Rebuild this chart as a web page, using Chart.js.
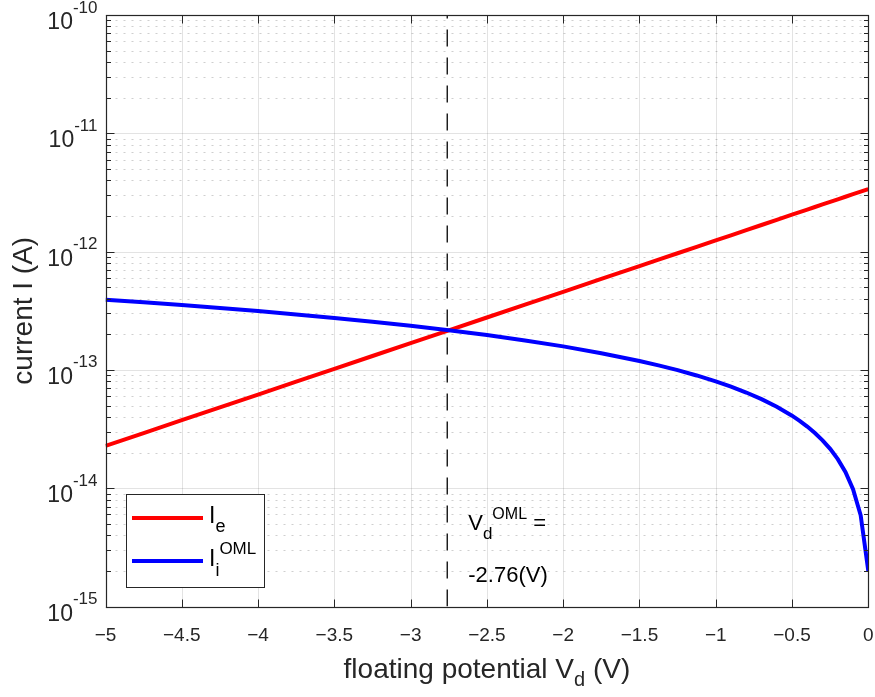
<!DOCTYPE html>
<html>
<head>
<meta charset="utf-8">
<title>OML floating potential</title>
<script src="https://cdn.jsdelivr.net/npm/chart.js@4.4.0/dist/chart.umd.min.js"></script>
<style>
html, body { margin: 0; padding: 0; background: #ffffff; }
</style>
</head>
<body>
<canvas id="currentChart" width="875" height="697"></canvas>
<script>
// floating potential V_d (V)
var vd = [-5, -4.75, -4.5, -4.25, -4, -3.75, -3.5, -3.25, -3, -2.75, -2.5, -2.25, -2,
  -1.75, -1.5, -1.375, -1.25, -1.125, -1, -0.9, -0.8, -0.7, -0.6, -0.5, -0.45, -0.4,
  -0.35, -0.3, -0.25, -0.2, -0.15, -0.1, -0.05, 0];
// electron current I_e (A)
var ie = [2.277e-14, 2.924e-14, 3.755e-14, 4.821e-14, 6.191e-14, 7.949e-14, 1.021e-13, 1.311e-13,
  1.683e-13, 2.161e-13, 2.774e-13, 3.562e-13, 4.574e-13, 5.874e-13, 7.542e-13, 8.546e-13,
  9.684e-13, 1.097e-12, 1.243e-12, 1.374e-12, 1.519e-12, 1.678e-12, 1.855e-12, 2.050e-12,
  2.155e-12, 2.266e-12, 2.382e-12, 2.504e-12, 2.632e-12, 2.767e-12, 2.909e-12, 3.058e-12,
  3.215e-12, 3.380e-12];
// ion current I_i^OML (A)
var iiOml = [3.92e-13, 3.725e-13, 3.53e-13, 3.335e-13, 3.14e-13, 2.945e-13, 2.75e-13, 2.555e-13,
  2.36e-13, 2.165e-13, 1.97e-13, 1.775e-13, 1.58e-13, 1.385e-13, 1.19e-13, 1.093e-13,
  9.95e-14, 8.975e-14, 8.0e-14, 7.22e-14, 6.44e-14, 5.66e-14, 4.88e-14, 4.1e-14,
  3.71e-14, 3.32e-14, 2.93e-14, 2.54e-14, 2.15e-14, 1.76e-14, 1.37e-14, 9.8e-15,
  5.9e-15, 2.0e-15];
// floating potential where I_e = I_i
var vFloat = -2.76;

// axis ticks
var xTicks = [-5, -4.5, -4, -3.5, -3, -2.5, -2, -1.5, -1, -0.5, 0];
var xTickLabels = ['-5', '-4.5', '-4', '-3.5', '-3', '-2.5', '-2', '-1.5', '-1', '-0.5', '0'];
var yExponents = [-15, -14, -13, -12, -11, -10];

var FONT = '"Liberation Sans", Arial, Helvetica, sans-serif';
var AXIS_COLOR = '#262626';

function toPoints(xs, ys) {
  return xs.map(function (x, i) { return { x: x, y: ys[i] }; });
}

// draws a run of text pieces (for sub/superscripts), returns total width
function richWidth(ctx, parts) {
  var w = 0;
  parts.forEach(function (p) {
    ctx.font = p.size + 'px ' + FONT;
    w += ctx.measureText(p.t).width;
  });
  return w;
}
function drawRich(ctx, parts, x, y, align) {
  var w = richWidth(ctx, parts);
  if (align === 'right') x -= w;
  else if (align === 'center') x -= w / 2;
  ctx.textAlign = 'left';
  ctx.textBaseline = 'alphabetic';
  parts.forEach(function (p) {
    ctx.font = p.size + 'px ' + FONT;
    ctx.fillText(p.t, x, y + (p.dy || 0));
    x += ctx.measureText(p.t).width;
  });
}

var axesPlugin = {
  id: 'matlabAxes',
  beforeDatasetsDraw: function (chart) {
    var ctx = chart.ctx, a = chart.chartArea;
    var xs = chart.scales.x, ys = chart.scales.y;
    ctx.save();
    ctx.lineWidth = 1;
    // minor log grid, dotted
    ctx.strokeStyle = 'rgba(38,38,38,0.22)';
    ctx.setLineDash([2, 6]);
    yExponents.slice(0, -1).forEach(function (e) {
      for (var m = 2; m <= 9; m++) {
        var py = Math.round(ys.getPixelForValue(m * Math.pow(10, e))) + 0.5;
        ctx.beginPath();
        ctx.moveTo(a.left + 2, py);
        ctx.lineTo(a.right, py);
        ctx.stroke();
      }
    });
    // major grid
    ctx.setLineDash([]);
    ctx.strokeStyle = 'rgba(38,38,38,0.13)';
    xTicks.forEach(function (v) {
      var px = Math.round(xs.getPixelForValue(v)) + 0.5;
      ctx.beginPath();
      ctx.moveTo(px, a.top);
      ctx.lineTo(px, a.bottom);
      ctx.stroke();
    });
    yExponents.forEach(function (e) {
      var py = Math.round(ys.getPixelForValue(Math.pow(10, e))) + 0.5;
      ctx.beginPath();
      ctx.moveTo(a.left, py);
      ctx.lineTo(a.right, py);
      ctx.stroke();
    });
    ctx.restore();
  },
  afterDatasetsDraw: function (chart) {
    var ctx = chart.ctx, a = chart.chartArea;
    var xs = chart.scales.x, ys = chart.scales.y;
    var L = Math.round(a.left) + 0.5, R = Math.round(a.right) + 0.5;
    var T = Math.round(a.top) + 0.5, B = Math.round(a.bottom) + 0.5;
    ctx.save();

    // box and inward ticks
    ctx.strokeStyle = AXIS_COLOR;
    ctx.lineWidth = 1.2;
    ctx.strokeRect(L, T, R - L, B - T);
    ctx.lineWidth = 1;
    xTicks.forEach(function (v) {
      var px = Math.round(xs.getPixelForValue(v)) + 0.5;
      ctx.beginPath();
      ctx.moveTo(px, B); ctx.lineTo(px, B - 8);
      ctx.moveTo(px, T); ctx.lineTo(px, T + 8);
      ctx.stroke();
    });
    yExponents.forEach(function (e, k) {
      var py = Math.round(ys.getPixelForValue(Math.pow(10, e))) + 0.5;
      ctx.beginPath();
      ctx.moveTo(L, py); ctx.lineTo(L + 8, py);
      ctx.moveTo(R, py); ctx.lineTo(R - 8, py);
      ctx.stroke();
      if (k === yExponents.length - 1) return;
      for (var m = 2; m <= 9; m++) {
        var pm = Math.round(ys.getPixelForValue(m * Math.pow(10, e))) + 0.5;
        ctx.beginPath();
        ctx.moveTo(L, pm); ctx.lineTo(L + 4.5, pm);
        ctx.moveTo(R, pm); ctx.lineTo(R - 4.5, pm);
        ctx.stroke();
      }
    });

    // tick labels
    ctx.fillStyle = AXIS_COLOR;
    ctx.font = '19px ' + FONT;
    ctx.textAlign = 'center';
    ctx.textBaseline = 'alphabetic';
    xTicks.forEach(function (v, i) {
      ctx.fillText(xTickLabels[i].replace('-', '\u2212'), xs.getPixelForValue(v), a.bottom + 34);
    });
    yExponents.forEach(function (e) {
      var py = ys.getPixelForValue(Math.pow(10, e));
      drawRich(ctx, [
        { t: '10', size: 23 },
        { t: '-' + Math.abs(e), size: 17, dy: -16.5 }
      ], a.left - 8, py + 14, 'right');
    });

    // axis titles
    drawRich(ctx, [
      { t: 'floating potential V', size: 28 },
      { t: 'd', size: 20, dy: 8 },
      { t: ' (V)', size: 28 }
    ], (a.left + a.right) / 2, 678, 'center');
    ctx.save();
    ctx.translate(32, (a.top + a.bottom) / 2);
    ctx.rotate(-Math.PI / 2);
    drawRich(ctx, [{ t: 'current I (A)', size: 28 }], 0, 0, 'center');
    ctx.restore();

    // annotation at the floating potential
    var ax = xs.getPixelForValue(vFloat) + 21;
    ctx.fillStyle = '#000000';
    drawRich(ctx, [
      { t: 'V', size: 22 },
      { t: 'd', size: 17, dy: 9 },
      { t: 'OML', size: 16, dy: -11 },
      { t: ' =', size: 22 }
    ], ax, 530, 'left');
    drawRich(ctx, [{ t: vFloat.toFixed(2) + '(V)', size: 22 }], ax, 582, 'left');

    // legend
    var lx = 126, ly = 494, lw = 138, lh = 93;
    ctx.fillStyle = '#ffffff';
    ctx.fillRect(lx, ly, lw, lh);
    ctx.strokeStyle = AXIS_COLOR;
    ctx.lineWidth = 1;
    ctx.strokeRect(lx + 0.5, ly + 0.5, lw, lh);
    var sets = chart.data.datasets;
    var rows = [
      { ds: sets[0], y: 518, parts: [{ t: 'I', size: 23 }, { t: 'e', size: 18, dy: 9 }] },
      { ds: sets[1], y: 561, parts: [{ t: 'I', size: 23 }, { t: 'i', size: 18, dy: 10 }, { t: 'OML', size: 17, dy: -12 }] }
    ];
    rows.forEach(function (r) {
      ctx.strokeStyle = r.ds.borderColor;
      ctx.lineWidth = r.ds.borderWidth;
      ctx.beginPath();
      ctx.moveTo(lx + 6, r.y);
      ctx.lineTo(lx + 77, r.y);
      ctx.stroke();
      ctx.fillStyle = '#000000';
      drawRich(ctx, r.parts, lx + 83, r.y + 5, 'left');
    });
    ctx.restore();
  }
};

var ctxC = document.getElementById('currentChart').getContext('2d');
var currentChart = new Chart(ctxC, {
  type: 'line',
  data: {
    datasets: [{
      label: 'I_e',
      data: toPoints(vd, ie),
      borderColor: '#ff0000',
      borderWidth: 4,
      pointRadius: 0,
      tension: 0,
      order: 2
    }, {
      label: 'I_i^OML',
      data: toPoints(vd, iiOml),
      borderColor: '#0000ff',
      borderWidth: 4,
      pointRadius: 0,
      tension: 0,
      order: 1
    }, {
      label: 'V_d^OML',
      data: [{ x: vFloat, y: 1e-15 }, { x: vFloat, y: 1e-10 }],
      borderColor: '#000000',
      borderWidth: 1.3,
      borderDash: [17, 11],
      pointRadius: 0,
      order: 0
    }]
  },
  options: {
    responsive: false,
    animation: false,
    devicePixelRatio: 1,
    layout: { padding: { left: 105.5, top: 15, right: 6.7, bottom: 90.5 } },
    plugins: {
      legend: { display: false },
      tooltip: { enabled: false }
    },
    scales: {
      x: { type: 'linear', min: -5, max: 0, display: false },
      y: { type: 'logarithmic', min: 1e-15, max: 1e-10, display: false }
    }
  },
  plugins: [axesPlugin]
});
</script>
</body>
</html>
